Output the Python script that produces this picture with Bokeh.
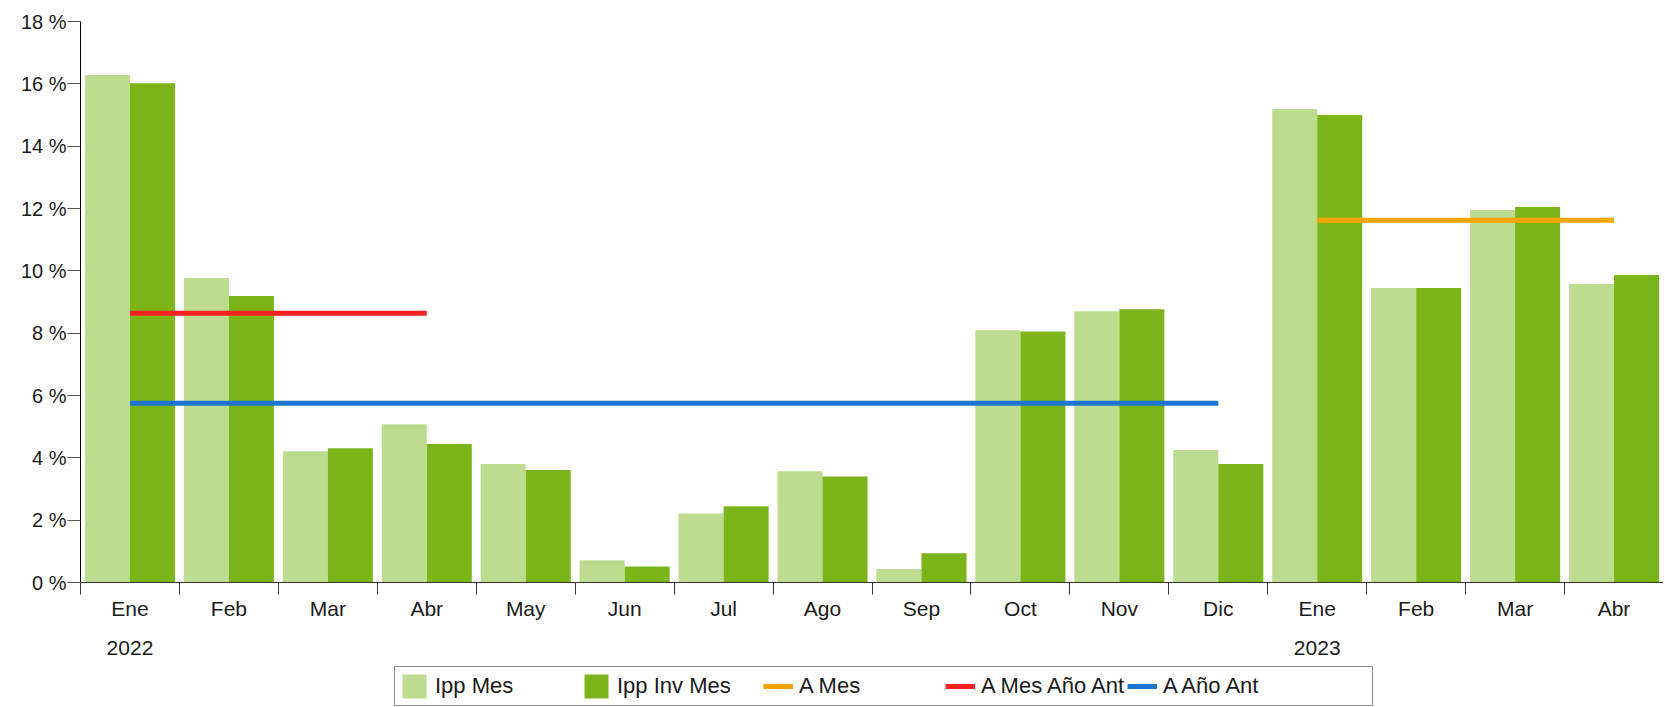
from bokeh.plotting import figure
from bokeh.layouts import column
from bokeh.models import (Range1d, FixedTicker, PrintfTickFormatter, LinearAxis,
                          Legend, LegendItem)
from bokeh.embed import file_html
from bokeh.resources import INLINE

# ---- data ----
months = ["Ene", "Feb", "Mar", "Abr", "May", "Jun", "Jul", "Ago", "Sep", "Oct",
          "Nov", "Dic", "Ene", "Feb", "Mar", "Abr"]
years = ["2022", "2023"]
year_start_idx = [0, 12]
ipp_mes = [16.28, 9.77, 4.21, 5.08, 3.80, 0.71, 2.21, 3.57, 0.43, 8.09, 8.70,
           4.25, 15.19, 9.45, 11.95, 9.58]
ipp_inv_mes = [16.02, 9.19, 4.31, 4.44, 3.61, 0.51, 2.45, 3.40, 0.94, 8.05, 8.77,
               3.80, 15.00, 9.45, 12.05, 9.87]
a_mes = 11.62
a_mes_span = [12, 15]
a_mes_ano_ant = 8.64
a_mes_ano_ant_span = [0, 3]
a_ano_ant = 5.75
a_ano_ant_span = [0, 11]
y_ticks = list(range(0, 19, 2))
legend_labels = ["Ipp Mes", "Ipp Inv Mes", "A Mes", "A Mes Año Ant", "A Año Ant"]

LIGHT = "#BEDC8F"
DARK = "#7CB51A"
ORANGE = "#F7A400"
RED = "#F52222"
BLUE = "#1C75CF"
FONT = "Liberation Sans"
TXT = "#1a1a1a"

n = len(months)
centers = [i + 0.5 for i in range(n)]
bw = 0.455

p = figure(width=1663, height=660, output_backend="svg", toolbar_location=None,
           x_range=Range1d(0, n), y_range=Range1d(0, 18),
           min_border_left=80, min_border_right=0, min_border_top=21,
           min_border_bottom=78, x_axis_type=None, y_axis_type=None)
p.outline_line_color = None
p.background_fill_color = "white"
p.border_fill_color = "white"

p.vbar(x=[c - bw / 2 for c in centers], top=ipp_mes, width=bw,
       fill_color=LIGHT, line_color=None)
p.vbar(x=[c + bw / 2 for c in centers], top=ipp_inv_mes, width=bw,
       fill_color=DARK, line_color=None)

p.line(x=[centers[a_mes_span[0]], centers[a_mes_span[1]]],
       y=[a_mes, a_mes], line_color=ORANGE, line_width=5)
p.line(x=[centers[a_mes_ano_ant_span[0]], centers[a_mes_ano_ant_span[1]]],
       y=[a_mes_ano_ant, a_mes_ano_ant], line_color=RED, line_width=5)
p.line(x=[centers[a_ano_ant_span[0]], centers[a_ano_ant_span[1]]],
       y=[a_ano_ant, a_ano_ant], line_color=BLUE, line_width=5)

# y axis
yax = LinearAxis(ticker=FixedTicker(ticks=y_ticks),
                 formatter=PrintfTickFormatter(format="%d %%"))
yax.axis_line_color = "black"
yax.major_tick_out = 13
yax.major_tick_in = 0
yax.major_tick_line_color = "#555555"
yax.minor_tick_line_color = None
yax.major_label_standoff = 1
yax.major_label_text_font = FONT
yax.major_label_text_font_size = "20px"
yax.major_label_text_color = TXT
p.add_layout(yax, "left")

# horizontal grid
p.ygrid.grid_line_color = "#333333"
p.ygrid.ticker = FixedTicker(ticks=y_ticks)
p.xgrid.visible = False

# x axis with month labels
xax = LinearAxis(ticker=FixedTicker(ticks=centers, minor_ticks=list(range(n + 1))),
                 major_label_overrides={c: m for c, m in zip(centers, months)})
xax.axis_line_color = "#333333"
xax.major_tick_out = 0
xax.major_tick_in = 0
xax.major_tick_line_color = None
xax.minor_tick_out = 12
xax.minor_tick_in = 0
xax.minor_tick_line_color = "#333333"
xax.major_label_standoff = 2
xax.major_label_text_font = FONT
xax.major_label_text_font_size = "21px"
xax.major_label_text_color = TXT
p.add_layout(xax, "below")

# year labels
year_ticks = [centers[i] for i in year_start_idx]
yrax = LinearAxis(ticker=FixedTicker(ticks=year_ticks),
                  major_label_overrides={c: y for c, y in zip(year_ticks, years)})
yrax.axis_line_color = None
yrax.major_tick_line_color = None
yrax.minor_tick_line_color = None
yrax.major_label_standoff = 12
yrax.major_label_text_font = FONT
yrax.major_label_text_font_size = "21px"
yrax.major_label_text_color = TXT
p.add_layout(yrax, "below")

# legend strip (separate small figure below the chart)
lg = figure(width=1663, height=46, output_backend="svg", toolbar_location=None,
            x_range=Range1d(0, 1), y_range=Range1d(0, 1),
            min_border_left=0, min_border_right=0, min_border_top=0,
            min_border_bottom=0, x_axis_type=None, y_axis_type=None)
lg.outline_line_color = None
lg.xgrid.visible = False
lg.ygrid.visible = False
# invisible sample marks, only used to draw the legend swatches
lg_renderers = [
    lg.vbar(x=[0.5], top=[-5], bottom=[-6], width=0.01, fill_color=LIGHT, line_color=None),
    lg.vbar(x=[0.5], top=[-5], bottom=[-6], width=0.01, fill_color=DARK, line_color=None),
    lg.line(x=[0.4, 0.6], y=[-10, -10], line_color=ORANGE, line_width=5),
    lg.line(x=[0.4, 0.6], y=[-10, -10], line_color=RED, line_width=5),
    lg.line(x=[0.4, 0.6], y=[-10, -10], line_color=BLUE, line_width=5),
]
labels = list(legend_labels)
labels[-1] = labels[-1] + "\u00a0" * 18  # widen the last cell to match the frame
legend = Legend(items=[LegendItem(label=l, renderers=[r]) for l, r in zip(labels, lg_renderers)],
                location=(314, 0), orientation="horizontal",
                glyph_width=30, glyph_height=30, label_standoff=6,
                label_width=146, padding=4, margin=0, spacing=0,
                border_line_color="#222222", border_line_width=1,
                background_fill_color="white", background_fill_alpha=1,
                label_text_font=FONT, label_text_font_size="22px",
                label_text_color=TXT)
lg.add_layout(legend, "center")

layout = column(p, lg, spacing=0)
open("out.html", "w").write(file_html(layout, INLINE))
